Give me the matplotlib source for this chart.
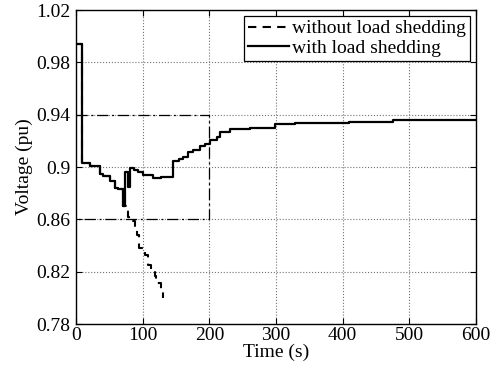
import matplotlib
matplotlib.use("Agg")
import matplotlib.pyplot as plt

plt.rcParams['font.family'] = ['Liberation Serif', 'DejaVu Serif']

# with load shedding (step values, held until next time)
t_with = [0, 8.5, 21, 36, 41, 51, 58.5, 63, 70, 73.5, 78, 80.5, 87, 92.5, 100, 115, 127.5,
          146, 155, 161, 168, 176, 186, 193.5, 201, 211, 216, 231, 261, 298, 328, 410, 475, 600]
v_with = [0.994, 0.903, 0.901, 0.895, 0.893, 0.889, 0.884, 0.8835, 0.870, 0.8965, 0.885, 0.899,
          0.8975, 0.8964, 0.894, 0.8913, 0.8925, 0.9048, 0.906, 0.908, 0.9117, 0.913, 0.9163, 0.9175,
          0.9206, 0.923, 0.927, 0.929, 0.9295, 0.9328, 0.934, 0.9348, 0.9358, 0.9362]

# without load shedding
t_without = [0, 8.5, 21, 36, 41, 51, 58.5, 63, 70, 75, 78, 80, 85, 88, 92, 95, 102, 104, 108,
             113, 118, 120, 125, 127, 131]
v_without = [0.994, 0.903, 0.901, 0.895, 0.893, 0.889, 0.884, 0.8835, 0.870, 0.868, 0.862, 0.860,
             0.859, 0.855, 0.848, 0.838, 0.837, 0.833, 0.825, 0.822, 0.817, 0.811, 0.811, 0.806, 0.800]

# limit box
box_t = [0, 200, 200, 0]
box_v = [0.94, 0.94, 0.86, 0.86]

fs = 14

fig = plt.figure(figsize=(5.02, 3.75), dpi=100)
ax = fig.add_axes([0.1514, 0.136, 0.7968, 0.837])

ax.plot(box_t, box_v, color='black', linestyle='-.', linewidth=0.9, dashes=(9, 3, 1.5, 3))
ax.step(t_without, v_without, where='post', color='black', linestyle='--', linewidth=1.5,
        dashes=(4, 3), label='without load shedding')
ax.step(t_with, v_with, where='post', color='black', linestyle='-', linewidth=1.6,
        label='with load shedding')

ax.set_xlim(0, 600)
ax.set_ylim(0.78, 1.02)
ax.set_xticks([0, 100, 200, 300, 400, 500, 600])
ax.set_yticks([0.78, 0.82, 0.86, 0.9, 0.94, 0.98, 1.02])
ax.set_yticklabels(['0.78', '0.82', '0.86', '0.9', '0.94', '0.98', '1.02'])
ax.grid(True, linestyle=':', color='0.45', linewidth=0.8)
ax.tick_params(direction='in', top=True, right=True, labelsize=fs, length=4)
ax.tick_params(axis='x', pad=2)
ax.tick_params(axis='y', pad=4)
for s in ax.spines.values():
    s.set_linewidth(1.0)

ax.set_xlabel('Time (s)', fontsize=fs, labelpad=0)
ax.set_ylabel('Voltage (pu)', fontsize=fs, labelpad=2)

leg = ax.legend(loc='upper right', fontsize=fs, fancybox=False, framealpha=1,
                edgecolor='black', handlelength=2.1, borderaxespad=0.3,
                borderpad=0.2, labelspacing=0.1, handletextpad=0.2)
leg.get_frame().set_linewidth(0.9)

fig.savefig('out.png', dpi=100)
